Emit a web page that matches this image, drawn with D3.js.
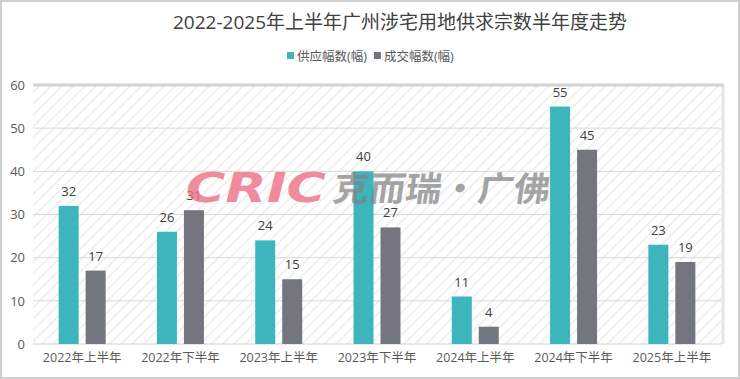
<!DOCTYPE html>
<html><head><meta charset="utf-8">
<script src="https://cdn.jsdelivr.net/npm/d3@7"></script>
<style>body{margin:0;background:#fff}svg{display:block}</style>
</head><body>
<svg id="c" width="740" height="379"></svg>
<script>
const categories = ["2022年上半年","2022年下半年","2023年上半年","2023年下半年","2024年上半年","2024年下半年","2025年上半年"];
const supply = [32,26,24,40,11,55,23];
const deal = [17,31,15,27,4,45,19];
const seriesNames = ["供应幅数(幅)","成交幅数(幅)"];
const yTicks = [0,10,20,30,40,50,60];
const colors = ["#3cb6bc","#74767f"];

const svg = d3.select("#c");
const W=740,H=379;
const font = "'Open Sans','Noto Sans CJK SC',sans-serif";
svg.append("rect").attr("x",1).attr("y",1).attr("width",W-2).attr("height",H-2).attr("fill","#fff").attr("stroke","#cfcfcf").attr("stroke-width",2);

const m={l:33,r:721,t:85,b:344};
const x=d3.scaleBand().domain(categories).range([m.l,m.r]);
const y=d3.scaleLinear().domain([0,60]).range([m.b,m.t]);

const defs=svg.append("defs");
const pat=defs.append("pattern").attr("id","hatch").attr("patternUnits","userSpaceOnUse").attr("width",8).attr("height",8).attr("patternTransform","rotate(45)");
pat.append("line").attr("x1",0).attr("y1",0).attr("x2",0).attr("y2",8).attr("stroke","#ebebeb").attr("stroke-width",3);
svg.append("rect").attr("x",m.l).attr("y",m.t).attr("width",m.r-m.l).attr("height",m.b-m.t).attr("fill","url(#hatch)");
svg.append("line").attr("x1",m.r+2).attr("x2",m.r+2).attr("y1",m.t).attr("y2",m.b).attr("stroke","#e6e6e6").attr("stroke-width",3);

// grid
svg.append("g").selectAll("line").data(yTicks.filter(d=>d>0&&d<60)).join("line")
 .attr("x1",m.l).attr("x2",m.r).attr("y1",d=>y(d)).attr("y2",d=>y(d)).attr("stroke","#d9d9d9").attr("stroke-width",1);
svg.append("line").attr("x1",m.l).attr("x2",m.r+3).attr("y1",y(60)).attr("y2",y(60)).attr("stroke","#d4d4d4").attr("stroke-width",3);
svg.append("line").attr("x1",m.l).attr("x2",m.r).attr("y1",y(0)).attr("y2",y(0)).attr("stroke","#d0d0d0").attr("stroke-width",1);

// y axis
const ya=svg.append("g").attr("transform",`translate(${m.l},0)`).call(d3.axisLeft(y).tickValues(yTicks).tickSize(0).tickPadding(8));
ya.select(".domain").remove();
ya.selectAll("text").attr("font-family",font).attr("font-size",13).attr("fill","#595959");

// x axis
const xa=svg.append("g").attr("transform",`translate(0,${m.b})`).call(d3.axisBottom(x).tickSize(0).tickPadding(9));
xa.select(".domain").remove();
xa.selectAll("text").attr("font-family",font).attr("font-size",12.5).attr("fill","#595959");

const bw=20,gap=7;
const gs=svg.append("g");
const series=[supply,deal];
series.forEach((vals,si)=>{
  const off = si===0 ? -(bw+gap/2) : gap/2;
  gs.selectAll(null).data(vals).join("rect")
   .attr("x",(d,i)=>x(categories[i])+x.bandwidth()/2+off)
   .attr("y",d=>y(d)).attr("width",bw).attr("height",d=>y(0)-y(d)).attr("fill",colors[si]);
  gs.selectAll(null).data(vals).join("text")
   .attr("x",(d,i)=>x(categories[i])+x.bandwidth()/2+off+bw/2)
   .attr("y",d=>y(d)-10).attr("text-anchor","middle")
   .attr("font-family",font).attr("font-size",13).attr("fill","#404040").text(d=>d);
});

// watermark (on top, semi-transparent)
const wm=svg.append("g");
wm.append("text").attr("x",186).attr("y",202).attr("font-family","'DejaVu Sans',sans-serif").attr("font-weight","bold").attr("font-style","italic").attr("font-size",40).attr("fill","#ee7088").attr("opacity",0.8).attr("textLength",140).attr("lengthAdjust","spacingAndGlyphs").text("CRIC");
wm.append("text").attr("x",333).attr("y",201).attr("font-family","'Noto Sans CJK SC',sans-serif").attr("font-weight","bold").attr("font-size",34).attr("fill","#808080").attr("opacity",0.7).attr("textLength",217).attr("lengthAdjust","spacingAndGlyphs").attr("transform","skewX(-8) translate(27,0)").text("克而瑞·广佛");

// title
svg.append("text").attr("x",400).attr("y",29).attr("text-anchor","middle").attr("font-family",font).attr("font-size",19).attr("fill","#404040").text("2022-2025年上半年广州涉宅用地供求宗数半年度走势");

// legend
const lg=svg.append("g");
let lx=287;
seriesNames.forEach((n,i)=>{
  lg.append("rect").attr("x",lx).attr("y",52).attr("width",7).attr("height",7).attr("fill",colors[i]);
  const t=lg.append("text").attr("x",lx+10).attr("y",61).attr("font-family",font).attr("font-size",12.5).attr("fill","#595959").text(n);
  lx += t.node().getComputedTextLength()+17;
});
</script>
</body></html>
